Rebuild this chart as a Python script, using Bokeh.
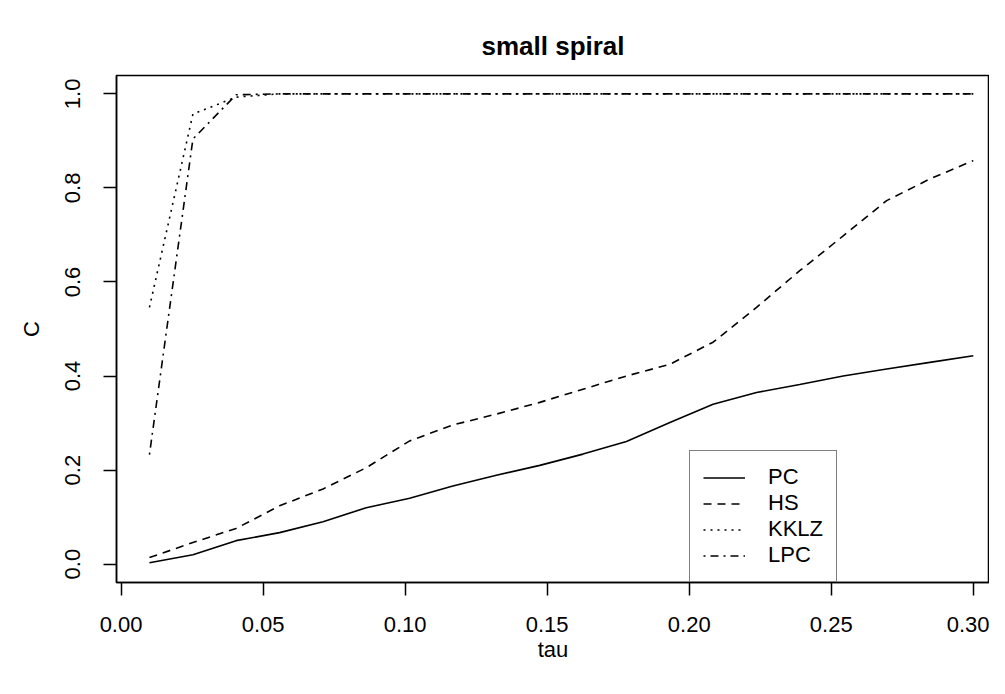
from bokeh.plotting import figure
from bokeh.models import (Range1d, FixedTicker, NumeralTickFormatter, Legend, LegendItem, ColumnDataSource)
from bokeh.embed import file_html
from bokeh.resources import INLINE

# ---- data ----
tau = [0.0100, 0.0253, 0.0405, 0.0558, 0.0711, 0.0863, 0.1016, 0.1168, 0.1321, 0.1474,
       0.1626, 0.1779, 0.1932, 0.2084, 0.2237, 0.2389, 0.2542, 0.2695, 0.2847, 0.3000]
pc = [0.003, 0.020, 0.050, 0.067, 0.090, 0.120, 0.140, 0.166, 0.189, 0.210,
      0.234, 0.261, 0.301, 0.340, 0.365, 0.382, 0.400, 0.415, 0.429, 0.443]
hs = [0.014, 0.046, 0.076, 0.124, 0.160, 0.205, 0.262, 0.296, 0.319, 0.344,
      0.372, 0.400, 0.425, 0.472, 0.546, 0.624, 0.698, 0.773, 0.819, 0.858]
kklz = [0.546, 0.957, 0.993, 1.0, 1.0, 1.0, 1.0, 1.0, 1.0, 1.0,
        1.0, 1.0, 1.0, 1.0, 1.0, 1.0, 1.0, 1.0, 1.0, 1.0]
lpc = [0.233, 0.904, 0.998, 1.0, 1.0, 1.0, 1.0, 1.0, 1.0, 1.0,
       1.0, 1.0, 1.0, 1.0, 1.0, 1.0, 1.0, 1.0, 1.0, 1.0]
series_names = ["PC", "HS", "KKLZ", "LPC"]
x_ticks = [0.00, 0.05, 0.10, 0.15, 0.20, 0.25, 0.30]
y_ticks = [0.0, 0.2, 0.4, 0.6, 0.8, 1.0]

FONT = "Liberation Sans"

src = ColumnDataSource(dict(tau=tau, pc=pc, hs=hs, kklz=kklz, lpc=lpc))

p = figure(width=989, height=678, output_backend="svg", toolbar_location=None,
           x_range=Range1d(-0.0016, 0.3057), y_range=Range1d(-0.039, 1.039),
           min_border_left=116, min_border_right=0, min_border_top=75, min_border_bottom=96,
           title="small spiral")

p.title.align = "center"
p.title.text_font = FONT
p.title.text_font_size = "26px"
p.title.text_font_style = "bold"
p.title.text_color = "black"
p.title.standoff = 30
p.title.offset = 7

p.outline_line_color = "black"
p.outline_line_width = 1.5
p.outline_line_alpha = 1.0
p.xgrid.visible = False
p.ygrid.visible = False
p.background_fill_color = "white"
p.border_fill_color = "white"

for ax, ticks, fmt in ((p.xaxis[0], x_ticks, "0.00"), (p.yaxis[0], y_ticks, "0.0")):
    ax.ticker = FixedTicker(ticks=ticks)
    ax.formatter = NumeralTickFormatter(format=fmt)
    ax.major_tick_in = 0
    ax.major_tick_out = 13
    ax.minor_tick_line_color = None
    ax.axis_line_color = "black"
    ax.axis_line_width = 1.5
    ax.major_tick_line_color = "black"
    ax.major_tick_line_width = 1.5
    ax.major_label_text_font = FONT
    ax.major_label_text_font_size = "22px"
    ax.major_label_text_color = "black"
    ax.axis_label_text_font = FONT
    ax.axis_label_text_font_size = "22px"
    ax.axis_label_text_font_style = "normal"
    ax.axis_label_text_color = "black"

p.xaxis.axis_label = "tau"
p.yaxis.axis_label = "C"
p.xaxis.major_label_standoff = 21
p.yaxis.major_label_standoff = 23
p.xaxis.axis_label_standoff = 2
p.yaxis.axis_label_standoff = 19
p.yaxis.major_label_orientation = "vertical"

lw = 1.6
r_pc = p.line("tau", "pc", source=src, line_color="black", line_width=lw)
r_hs = p.line("tau", "hs", source=src, line_color="black", line_width=lw, line_dash="8 6")
r_kk = p.line("tau", "kklz", source=src, line_color="black", line_width=lw, line_dash="2 5")
r_lp = p.line("tau", "lpc", source=src, line_color="black", line_width=lw, line_dash="2 5 8 5")

legend = Legend(items=[LegendItem(label=n, renderers=[r]) for n, r in
                       zip(series_names, [r_pc, r_hs, r_kk, r_lp])],
                location=(573, 0), orientation="vertical",
                glyph_width=42, glyph_height=25, label_height=25, spacing=0,
                label_standoff=23, padding=13, margin=0,
                border_line_color="black", border_line_width=1.5,
                background_fill_color="white", background_fill_alpha=1.0,
                label_text_font=FONT, label_text_font_size="22px",
                label_text_color="black")
p.add_layout(legend, "center")

open("out.html", "w").write(file_html(p, INLINE))
